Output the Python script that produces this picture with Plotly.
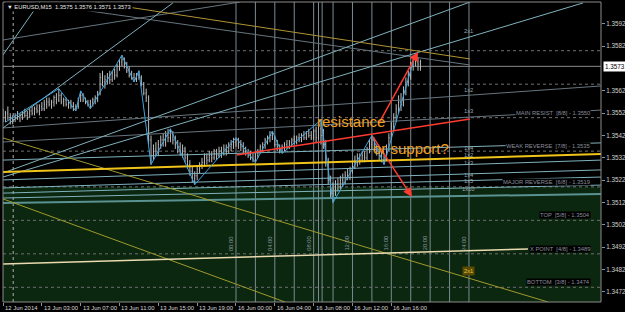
import plotly.graph_objects as go

# ---------------- data (bar index = M15 bar since 12 Jun 23:00) ----------------
bar_index = list(range(173))
opens = [1.3551,1.3550,1.3552,1.3550,1.3549,1.3550,1.3551,1.3550,1.3551,1.3552,
         1.3551,1.3552,1.3553,1.3552,1.3554,1.3553,1.3555,1.3554,1.3556,1.3557,
         1.3556,1.3557,1.3559,1.3558,1.3560,1.3557,1.3558,1.3556,1.3557,1.3555,
         1.3554,1.3555,1.3558,1.3560,1.3558,1.3557,1.3556,1.3557,1.3558,1.3559,
         1.3561,1.3568,1.3566,1.3567,1.3569,1.3567,1.3570,1.3569,1.3573,1.3575,
         1.3576,1.3574,1.3571,1.3569,1.3568,1.3567,1.3569,1.3568,1.3565,1.3561,
         1.3559,1.3540,1.3533,1.3536,1.3535,1.3538,1.3540,1.3539,1.3542,1.3541,
         1.3543,1.3540,1.3538,1.3537,1.3535,1.3536,1.3532,1.3529,1.3526,1.3523,
         1.3524,1.3527,1.3529,1.3530,1.3532,1.3531,1.3533,1.3532,1.3534,1.3533,
         1.3535,1.3534,1.3536,1.3535,1.3537,1.3538,1.3539,1.3540,1.3538,1.3537,
         1.3535,1.3534,1.3533,1.3532,1.3531,1.3533,1.3535,1.3537,1.3538,1.3540,
         1.3541,1.3542,1.3541,1.3538,1.3537,1.3536,1.3537,1.3538,1.3537,1.3539,
         1.3540,1.3539,1.3541,1.3540,1.3542,1.3541,1.3543,1.3542,1.3541,1.3544,
         1.3541,1.3545,1.3542,1.3538,1.3530,1.3522,1.3516,1.3518,1.3520,1.3519,
         1.3522,1.3521,1.3524,1.3523,1.3526,1.3528,1.3530,1.3532,1.3531,1.3533,
         1.3532,1.3536,1.3538,1.3540,1.3537,1.3535,1.3533,1.3531,1.3532,1.3536,
         1.3541,1.3546,1.3550,1.3554,1.3557,1.3556,1.3562,1.3566,1.3569,1.3573,
         1.3576,1.3575,1.3575]
highs = [1.3554,1.3553,1.3555,1.3552,1.3551,1.3552,1.3553,1.3552,1.3553,1.3554,
         1.3553,1.3554,1.3555,1.3555,1.3556,1.3556,1.3557,1.3558,1.3559,1.3559,
         1.3558,1.3560,1.3561,1.3563,1.3561,1.3559,1.3559,1.3558,1.3558,1.3557,
         1.3556,1.3559,1.3562,1.3561,1.3559,1.3558,1.3558,1.3559,1.3560,1.3562,
         1.3570,1.3571,1.3569,1.3570,1.3571,1.3571,1.3572,1.3574,1.3576,1.3578,
         1.3577,1.3575,1.3573,1.3571,1.3570,1.3570,1.3571,1.3569,1.3566,1.3563,
         1.3560,1.3542,1.3538,1.3539,1.3540,1.3542,1.3543,1.3544,1.3545,1.3545,
         1.3544,1.3542,1.3540,1.3539,1.3538,1.3537,1.3534,1.3531,1.3528,1.3526,
         1.3528,1.3530,1.3532,1.3534,1.3534,1.3535,1.3535,1.3536,1.3536,1.3537,
         1.3537,1.3538,1.3538,1.3539,1.3540,1.3541,1.3541,1.3541,1.3540,1.3539,
         1.3537,1.3536,1.3535,1.3534,1.3534,1.3536,1.3538,1.3539,1.3541,1.3542,
         1.3544,1.3544,1.3542,1.3540,1.3538,1.3538,1.3539,1.3540,1.3540,1.3541,
         1.3542,1.3542,1.3543,1.3543,1.3544,1.3544,1.3545,1.3544,1.3545,1.3546,
         1.3547,1.3549,1.3545,1.3540,1.3532,1.3524,1.3521,1.3522,1.3523,1.3524,
         1.3525,1.3526,1.3527,1.3528,1.3530,1.3533,1.3534,1.3534,1.3535,1.3535,
         1.3537,1.3540,1.3542,1.3541,1.3538,1.3537,1.3535,1.3534,1.3538,1.3543,
         1.3548,1.3552,1.3556,1.3560,1.3561,1.3564,1.3568,1.3571,1.3575,1.3578,
         1.3579,1.3577,1.3576]
lows = [1.3548,1.3548,1.3549,1.3547,1.3547,1.3548,1.3549,1.3548,1.3549,1.3550,
        1.3549,1.3550,1.3551,1.3551,1.3552,1.3551,1.3553,1.3553,1.3554,1.3555,
        1.3554,1.3555,1.3556,1.3557,1.3556,1.3555,1.3555,1.3554,1.3554,1.3553,
        1.3553,1.3554,1.3557,1.3557,1.3556,1.3555,1.3554,1.3555,1.3556,1.3557,
        1.3560,1.3564,1.3563,1.3565,1.3565,1.3566,1.3567,1.3568,1.3571,1.3573,
        1.3572,1.3570,1.3568,1.3567,1.3566,1.3566,1.3567,1.3564,1.3560,1.3557,
        1.3538,1.3529,1.3531,1.3533,1.3533,1.3536,1.3537,1.3537,1.3539,1.3539,
        1.3538,1.3536,1.3534,1.3533,1.3532,1.3530,1.3527,1.3524,1.3521,1.3520,
        1.3522,1.3525,1.3527,1.3528,1.3529,1.3530,1.3530,1.3531,1.3531,1.3532,
        1.3532,1.3533,1.3533,1.3534,1.3535,1.3536,1.3537,1.3536,1.3535,1.3534,
        1.3533,1.3532,1.3531,1.3530,1.3530,1.3532,1.3534,1.3535,1.3536,1.3538,
        1.3539,1.3540,1.3537,1.3535,1.3534,1.3534,1.3535,1.3536,1.3536,1.3537,
        1.3538,1.3538,1.3539,1.3539,1.3540,1.3540,1.3541,1.3540,1.3540,1.3539,
        1.3540,1.3538,1.3536,1.3528,1.3520,1.3514,1.3512,1.3515,1.3517,1.3518,
        1.3519,1.3520,1.3522,1.3522,1.3525,1.3527,1.3528,1.3529,1.3530,1.3530,
        1.3531,1.3534,1.3536,1.3535,1.3533,1.3531,1.3530,1.3529,1.3531,1.3535,
        1.3540,1.3544,1.3548,1.3552,1.3553,1.3555,1.3560,1.3564,1.3567,1.3571,
        1.3573,1.3571,1.3571]
closes = [1.3550,1.3552,1.3550,1.3549,1.3550,1.3551,1.3550,1.3551,1.3552,1.3551,
          1.3552,1.3553,1.3552,1.3554,1.3553,1.3555,1.3554,1.3556,1.3557,1.3556,
          1.3557,1.3559,1.3558,1.3560,1.3557,1.3558,1.3556,1.3557,1.3555,1.3554,
          1.3555,1.3558,1.3560,1.3558,1.3557,1.3556,1.3557,1.3558,1.3559,1.3561,
          1.3568,1.3566,1.3567,1.3569,1.3567,1.3570,1.3569,1.3573,1.3575,1.3576,
          1.3574,1.3571,1.3569,1.3568,1.3567,1.3569,1.3568,1.3565,1.3561,1.3559,
          1.3540,1.3533,1.3536,1.3535,1.3538,1.3540,1.3539,1.3542,1.3541,1.3543,
          1.3540,1.3538,1.3537,1.3535,1.3536,1.3532,1.3529,1.3526,1.3523,1.3524,
          1.3527,1.3529,1.3530,1.3532,1.3531,1.3533,1.3532,1.3534,1.3533,1.3535,
          1.3534,1.3536,1.3535,1.3537,1.3538,1.3539,1.3540,1.3538,1.3537,1.3535,
          1.3534,1.3533,1.3532,1.3531,1.3533,1.3535,1.3537,1.3538,1.3540,1.3541,
          1.3542,1.3541,1.3538,1.3537,1.3536,1.3537,1.3538,1.3537,1.3539,1.3540,
          1.3539,1.3541,1.3540,1.3542,1.3541,1.3543,1.3542,1.3541,1.3544,1.3541,
          1.3545,1.3542,1.3538,1.3530,1.3522,1.3516,1.3518,1.3520,1.3519,1.3522,
          1.3521,1.3524,1.3523,1.3526,1.3528,1.3530,1.3532,1.3531,1.3533,1.3532,
          1.3536,1.3538,1.3540,1.3537,1.3535,1.3533,1.3531,1.3532,1.3536,1.3541,
          1.3546,1.3550,1.3554,1.3557,1.3556,1.3562,1.3566,1.3569,1.3573,1.3576,
          1.3575,1.3574,1.3573]

zigzag_x = [1, 23, 30, 32, 36, 49, 54, 56, 61, 69, 79, 96, 104, 111, 115, 131, 136, 152, 157, 170]
zigzag_y = [1.3548, 1.3563, 1.3553, 1.3562, 1.3554, 1.3578, 1.3566, 1.3571, 1.3529, 1.3545,
            1.3520, 1.3541, 1.3530, 1.3544, 1.3534, 1.3549, 1.3512, 1.3542, 1.3529, 1.3579]

x_tick_idx = [0, 16, 32, 48, 64, 80, 96, 112, 128, 144, 160]
x_tick_text = ["12 Jun 2014", "13 Jun 03:00", "13 Jun 07:00", "13 Jun 11:00", "13 Jun 15:00",
               "13 Jun 19:00", "16 Jun 00:00", "16 Jun 04:00", "16 Jun 08:00", "16 Jun 12:00",
               "16 Jun 16:00"]
y_tick_vals = [1.3602, 1.3592, 1.3582, 1.3562, 1.3552, 1.3542, 1.3532, 1.3522, 1.3512,
               1.3502, 1.3492, 1.3482, 1.3472]

murrey_levels = [1.3580, 1.3565, 1.3550, 1.3535, 1.3519, 1.3504, 1.3489, 1.3474]
murrey_names = ["OVER  [+2/8] - 1.3580", "OVER  [+1/8] - 1.3565", "MAIN RESIST  [8/8] - 1.3550",
                "WEAK REVERSE  [7/8] - 1.3535", "MAJOR REVERSE  [6/8] - 1.3519",
                "TOP  [5/8] - 1.3504", "X POINT  [4/8] - 1.3489", "BOTTOM  [3/8] - 1.3474"]

hour_lines = [96, 104, 112, 120, 128, 136, 144, 152, 160, 168, 176, 184, 192]
extra_vlines = [130, 131.5]
hour_label_idx = [96, 112, 128, 144, 160, 176, 192]
hour_label_text = ["00:00", "04:00", "08:00", "12:00", "16:00", "20:00", "24:00"]

gann_x = 192
gann_text = ["2x1", "1x2", "1x3", "1x4", "1x2", "1x3", "1x4", "1x5", "1x10"]
gann_y = [1.35888, 1.35624, 1.35530, 1.35364, 1.35333, 1.35297, 1.35243, 1.35216, 1.35180]

# line objects: x0, y0, x1, y1 (bar index, price)
cyan_x0 = [0, 0, 0, 0, 0, 0, 0, 0, 0]
cyan_y0 = [1.35454, 1.35781, 1.35252, 1.35234, 1.35310, 1.35221, 1.35185, 1.35162, 1.35140]
cyan_x1 = [70.0, 15.2, 192.4, 239.0, 246.4, 246.4, 246.4, 246.4, 246.4]
cyan_y1 = [1.36014, 1.36018, 1.36018, 1.36014, 1.35387, 1.35310, 1.35266, 1.35234, 1.35198]

gray_x0 = [0, 0, 0, 0]
gray_y0 = [1.35848, 1.35391, 1.35454, 1.36033]
gray_x1 = [97.6, 246.4, 246.4, 192.4]
gray_y1 = [1.36018, 1.35534, 1.35642, 1.35736]

teal_x = [0, 246.4]
teal_y = [1.35118, 1.35158]
gold_x = [37.9, 192.4]
gold_y = [1.36018, 1.35763]
olive_x0 = [0, 0]
olive_y0 = [1.35409, 1.35136]
olive_x1 = [224.6, 116.2]
olive_y1 = [1.34674, 1.34674]
yellow_x = [0, 246.4]
yellow_y = [1.35257, 1.35337]
cream_x = [0, 216.3]
cream_y = [1.34844, 1.34912]
resist_x = [96.4, 192.4]
resist_y = [1.35333, 1.35494]
arrow_up = (154.5, 1.35467, 171.0, 1.35794)
arrow_dn = (152.0, 1.35422, 168.5, 1.35145)

last_price = 1.3573
green_top = 1.3519
y_lo, y_hi = 1.346742, 1.360182
x_lo, x_hi = 0, 246.4

FONT = "Liberation Sans"

fig = go.Figure()

def seg(x0, y0, x1, y1, color, width=1, dash=None):
    fig.add_trace(go.Scatter(x=[x0, x1], y=[y0, y1], mode="lines",
                             line=dict(color=color, width=width, dash=dash),
                             hoverinfo="skip", showlegend=False))

for a, b, c, d in zip(gray_x0, gray_y0, gray_x1, gray_y1):
    seg(a, b, c, d, "#66757f")
for a, b, c, d in zip(cyan_x0, cyan_y0, cyan_x1, cyan_y1):
    seg(a, b, c, d, "#7fb2be")
seg(teal_x[0], teal_y[0], teal_x[1], teal_y[1], "#5a9292", 2)
seg(gold_x[0], gold_y[0], gold_x[1], gold_y[1], "#b09436")
for a, b, c, d in zip(olive_x0, olive_y0, olive_x1, olive_y1):
    seg(a, b, c, d, "#a09a2c")
seg(yellow_x[0], yellow_y[0], yellow_x[1], yellow_y[1], "#f0c419", 2)
seg(cream_x[0], cream_y[0], cream_x[1], cream_y[1], "#eadbb0", 1.5)

fig.add_trace(go.Ohlc(x=bar_index, open=opens, high=highs, low=lows, close=closes,
                      increasing=dict(line=dict(color="#bdbdbd", width=1)),
                      decreasing=dict(line=dict(color="#bdbdbd", width=1)),
                      tickwidth=0.25, hoverinfo="skip", showlegend=False))

fig.add_trace(go.Scatter(x=zigzag_x, y=zigzag_y, mode="lines",
                         line=dict(color="#3fa6e0", width=1), hoverinfo="skip", showlegend=False))

seg(resist_x[0], resist_y[0], resist_x[1], resist_y[1], "#ff3b30", 1.5)
for ar in (arrow_up, arrow_dn):
    fig.add_annotation(x=ar[2], y=ar[3], ax=ar[0], ay=ar[1], xref="x", yref="y",
                       axref="x", ayref="y", text="", showarrow=True, arrowhead=2,
                       arrowsize=1.2, arrowwidth=1.5, arrowcolor="#ff3b30")

shapes = []
shapes.append(dict(type="rect", xref="x domain", yref="y", x0=0, x1=1, y0=y_lo, y1=green_top,
                   fillcolor="#0b270f", line=dict(width=0), layer="below"))
for h in hour_lines + extra_vlines:
    shapes.append(dict(type="line", xref="x", yref="y domain", x0=h, x1=h, y0=0, y1=1,
                       line=dict(color="#7a8a94", width=1), layer="below"))
shapes.append(dict(type="line", xref="x", yref="y domain", x0=4.2, x1=4.2, y0=0, y1=1,
                   line=dict(color="#b0b0b0", width=1, dash="dot"), layer="below"))
for lv in murrey_levels:
    shapes.append(dict(type="line", xref="x domain", yref="y", x0=0, x1=1, y0=lv, y1=lv,
                       line=dict(color="#707070", width=1, dash="dot"), layer="below"))
shapes.append(dict(type="line", xref="x domain", yref="y", x0=0, x1=1, y0=last_price, y1=last_price,
                   line=dict(color="#8a8a8a", width=1), layer="below"))
shapes.append(dict(type="rect", xref="x domain", yref="y domain", x0=0, x1=1, y0=0, y1=1,
                   line=dict(color="#8c8c8c", width=1), fillcolor="rgba(0,0,0,0)"))

ann = []
for lv, name in zip(murrey_levels, murrey_names):
    ann.append(dict(x=242.3, y=lv, xref="x", yref="y", text=name, showarrow=False,
                    xanchor="right", yanchor="middle", yshift=5, bgcolor="#000000", borderpad=0,
                    font=dict(family=FONT, size=5.8, color="#8a8e9c")))
for t, gy in zip(gann_text, gann_y):
    ann.append(dict(x=gann_x, y=gy, xref="x", yref="y", text=t, showarrow=False,
                    font=dict(family=FONT, size=5.8, color="#9aa4aa")))
ann.append(dict(x=gann_x, y=1.34813, xref="x", yref="y", text="2x1", showarrow=False,
                bgcolor="#5a4a00", font=dict(family=FONT, size=5.8, color="#e8c840")))
for hi, ht in zip(hour_label_idx, hour_label_text):
    ann.append(dict(x=hi, y=1.34938, xref="x", yref="y", text=ht, showarrow=False,
                    textangle=-90, xshift=-5, font=dict(family=FONT, size=5.8, color="#8a96a0")))
for xi, xt in zip(x_tick_idx, x_tick_text):
    ann.append(dict(x=xi, y=10 / 312, xref="x", yref="paper", text=xt, showarrow=False,
                    xanchor="left", yanchor="top", xshift=0, yshift=-1,
                    font=dict(family=FONT, size=5.9, color="#d8d8d8")))
ann.append(dict(x=143.4, y=1.35485, xref="x", yref="y", text="resistance", showarrow=False,
                font=dict(family=FONT, size=15, color="#f0a020")))
ann.append(dict(x=168.1, y=1.35360, xref="x", yref="y", text="or support?", showarrow=False,
                font=dict(family=FONT, size=15, color="#f0a020")))
ann.append(dict(x=603 / 625, y=last_price, xref="paper", yref="y", text="%.4f" % last_price,
                showarrow=False, xanchor="left", bgcolor="#ffffff", borderpad=1,
                font=dict(family=FONT, size=6.3, color="#000000")))
ann.append(dict(x=5 / 625, y=1 - 7 / 312, xref="paper", yref="paper",
                text="\u25bc EURUSD,M15  %.4f %.4f %.4f %.4f" % (opens[-1], highs[-1], lows[-1], closes[-1]),
                showarrow=False, xanchor="left", yanchor="middle", bgcolor="#000000",
                font=dict(family=FONT, size=5.8, color="#e8e8e8")))

fig.update_layout(
    width=625, height=312, margin=dict(l=0, r=0, t=0, b=0),
    paper_bgcolor="#000000", plot_bgcolor="#000000", showlegend=False,
    shapes=shapes, annotations=ann,
    xaxis=dict(domain=[3 / 625, 601 / 625], range=[x_lo, x_hi], showgrid=False, zeroline=False,
               showticklabels=False, ticks="outside", ticklen=3, tickcolor="#909090",
               tickvals=x_tick_idx, rangeslider=dict(visible=False), showline=False, fixedrange=True),
    yaxis=dict(domain=[10 / 312, 310 / 312], range=[y_lo, y_hi], side="right", showgrid=False,
               zeroline=False, tickvals=y_tick_vals, ticktext=["%.4f" % v for v in y_tick_vals],
               ticks="outside", ticklen=3, tickcolor="#909090",
               tickfont=dict(family=FONT, size=6.3, color="#d0d0d0"), showline=False, fixedrange=True),
)

fig.write_html("out.html")
